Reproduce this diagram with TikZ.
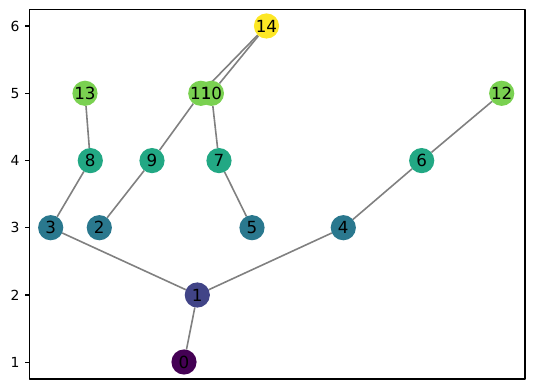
\documentclass[tikz,border=0pt]{standalone}
\usepackage{fontspec}
\setmainfont{DejaVu Sans}
\usetikzlibrary{backgrounds}
\definecolor{lvl0}{HTML}{440154}
\definecolor{lvl1}{HTML}{414487}
\definecolor{lvl2}{HTML}{2A788E}
\definecolor{lvl3}{HTML}{22A884}
\definecolor{lvl4}{HTML}{7AD151}
\definecolor{lvl5}{HTML}{FDE725}
\definecolor{edgegray}{HTML}{808080}
\begin{document}
\begin{tikzpicture}[line join=bevel,
  vertex/.style={circle,inner sep=0pt,minimum size=25bp,font=\fontsize{16.7bp}{20bp}\selectfont},
  ticklabel/.style={anchor=east,inner sep=0pt,font=\fontsize{13.9bp}{16bp}\selectfont},
  link/.style={draw=edgegray,line width=1.6bp}]
\useasboundingbox (0bp,0bp) rectangle (534bp,389bp);
%%
\node (n0) at (184bp,27bp) [vertex] {0};
  \node (n1) at (197.3bp,94bp) [vertex] {1};
  \node (n2) at (99.3bp,161.3bp) [vertex] {2};
  \node (n3) at (50.7bp,161.3bp) [vertex] {3};
  \node (n4) at (343.3bp,161.3bp) [vertex] {4};
  \node (n5) at (252bp,161.3bp) [vertex] {5};
  \node (n6) at (421.7bp,228.4bp) [vertex] {6};
  \node (n7) at (219bp,228.4bp) [vertex] {7};
  \node (n8) at (90.3bp,228.4bp) [vertex] {8};
  \node (n9) at (152bp,228.4bp) [vertex] {9};
  \node (n11) at (200.8bp,295.7bp) [vertex] {11};
  \node (n10) at (211.4bp,295.7bp) [vertex] {10};
  \node (n12) at (501.7bp,295.7bp) [vertex] {12};
  \node (n13) at (85bp,295.7bp) [vertex] {13};
  \node (n14) at (266.5bp,363bp) [vertex] {14};
\begin{pgfonlayer}{background}
  \draw [link] (n0) -- (n1);
  \draw [link] (n1) -- (n3);
  \draw [link] (n1) -- (n4);
  \draw [link] (n3) -- (n8);
  \draw [link] (n8) -- (n13);
  \draw [link] (n2) -- (n9);
  \draw [link] (n9) -- (n11);
  \draw [link] (n11) -- (n14);
  \draw [link] (n10) -- (n14);
  \draw [link] (n10) -- (n7);
  \draw [link] (n7) -- (n5);
  \draw [link] (n4) -- (n6);
  \draw [link] (n6) -- (n12);
  \foreach \v/\c in {n0/lvl0,n1/lvl1,n2/lvl2,n3/lvl2,n4/lvl2,n5/lvl2,n6/lvl3,n7/lvl3,n8/lvl3,n9/lvl3,n11/lvl4,n10/lvl4,n12/lvl4,n13/lvl4,n14/lvl5}
    \fill [\c] (\v.center) circle (12.6bp);
\end{pgfonlayer}
%
\draw [line width=1.1bp] (29.5bp,10bp) rectangle (525bp,379.7bp);
\foreach \t in {1,...,6} {
  \draw [line width=1.1bp] (29.5bp,26.7bp+\t*67.26bp-67.26bp) -- ++(-4.9bp,0);
  \node (tk\t) at (19.7bp,26.7bp+\t*67.26bp-67.26bp) [ticklabel] {\t};
}
%
\end{tikzpicture}
\end{document}
